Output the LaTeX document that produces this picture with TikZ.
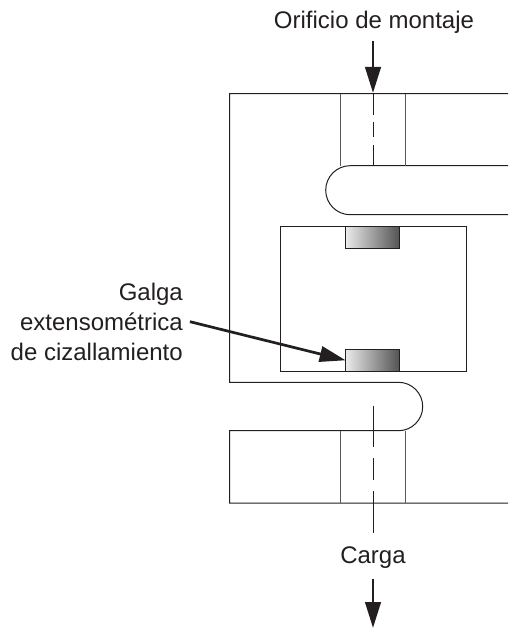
\documentclass[tikz,border=0pt]{standalone}
\usepackage{fontspec}
\setmainfont{Liberation Sans}
\usetikzlibrary{arrows.meta}
\definecolor{ink}{HTML}{231F20}

\tikzset{
  body/.style={ink,line width=1pt},
  hole/.style={ink!75,line width=1pt},
  axis/.style={ink,line width=1pt},
  load/.style={ink,line width=2.7pt,-{Triangle[length=26pt,width=15.5pt]}},
  gauge/.style={draw=ink,line width=1pt,left color=white!92!black,right color=black!68,
    minimum width=54.3pt,minimum height=22pt,inner sep=0pt,outer sep=0pt},
  label/.style={text=ink,font=\fontsize{24}{30}\selectfont,inner sep=0pt}
}

\begin{document}
\begin{tikzpicture}[x=1pt,y=-1pt]
  \useasboundingbox (0,0) rectangle (508,628);
  % cuerpo
  \draw[body] (508,93.7) -- (229.5,93.7) -- (229.5,382.3) -- (398.5,382.3)
    arc (270:450:24.2) -- (229.5,430.7) -- (229.5,503) -- (508,503);
  \draw[body] (508,165.7) -- (350.2,165.7) arc (270:90:24.5) -- (508,214.7);
  \draw[body] (280,226) rectangle (466.7,371.3);
  % agujeros
  \draw[hole] (340.7,93.7) -- (340.7,165.7);
  \draw[hole] (405,93.7) -- (405,165.7);
  \draw[hole] (340.7,430.7) -- (340.7,503);
  \draw[hole] (405,430.7) -- (405,503);
  % eje
  \draw[axis] (373,93.7) -- (373,115);
  \draw[axis] (373,122) -- (373,137);
  \draw[axis] (373,145) -- (373,165.7);
  \draw[axis] (373,405.7) -- (373,447.3);
  \draw[axis] (373,458) -- (373,480);
  \draw[axis] (373,491) -- (373,533);
  % galgas
  \node[gauge] (gaugea) at (372.8,237) {};
  \node[gauge] (gaugeb) at (372.8,360.3) {};
  % textos
  \node[label] (montaje) at (374,22) {Orificio de montaje};
  \node[label] (carga) at (373,558) {Carga};
  \node[label,align=right,anchor=east,inner xsep=7pt] (galga) at (190,321.7)
    {Galga\\extensométrica\\de cizallamiento};
  % flechas
  \coordinate (montajeend) at (373,41);
  \coordinate (montajetip) at (373,93);
  \coordinate (cargaend) at (373,578.7);
  \coordinate (cargatip) at (373,628);
  \draw[load] (montajeend) -- (montajetip);
  \draw[load] (cargaend) -- (cargatip);
  \draw[load] (galga.east) -- (gaugeb.west);
\end{tikzpicture}
\end{document}
